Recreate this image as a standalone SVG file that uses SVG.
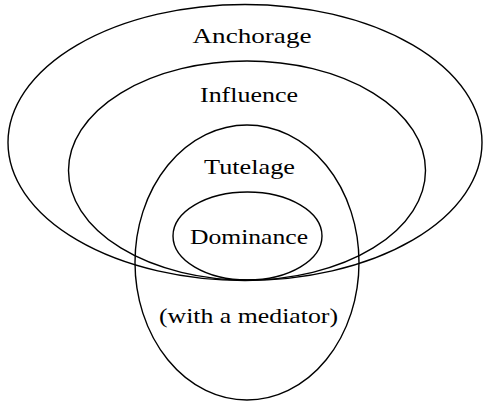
<svg xmlns="http://www.w3.org/2000/svg" width="483" height="402" viewBox="0 0 483 402">
<style>
.e{fill:none;stroke:#000;stroke-width:1.4}
.t{font-family:"Liberation Serif","Times New Roman",serif;font-size:21px;fill:#000;text-anchor:middle}
</style>
<rect width="483" height="402" fill="#fff"/>
<g id="anchorage">
<ellipse class="e" cx="245" cy="142.5" rx="237" ry="138"/>
<text class="t" x="252" y="43" textLength="119" lengthAdjust="spacingAndGlyphs">Anchorage</text>
</g>
<g id="influence">
<ellipse class="e" cx="247" cy="170.5" rx="178.5" ry="109.5"/>
<text class="t" x="249" y="102" textLength="98" lengthAdjust="spacingAndGlyphs">Influence</text>
</g>
<g id="tutelage">
<ellipse class="e" cx="247" cy="262.5" rx="112" ry="137.5"/>
<text class="t" x="249.5" y="174" textLength="91" lengthAdjust="spacingAndGlyphs">Tutelage</text>
<text class="t" x="248.5" y="323" textLength="179" lengthAdjust="spacingAndGlyphs">(with a mediator)</text>
</g>
<g id="dominance">
<ellipse class="e" cx="247.5" cy="236" rx="74.5" ry="44"/>
<text class="t" x="249" y="244" textLength="118" lengthAdjust="spacingAndGlyphs">Dominance</text>
</g>
<g id="connectors"></g>
</svg>
